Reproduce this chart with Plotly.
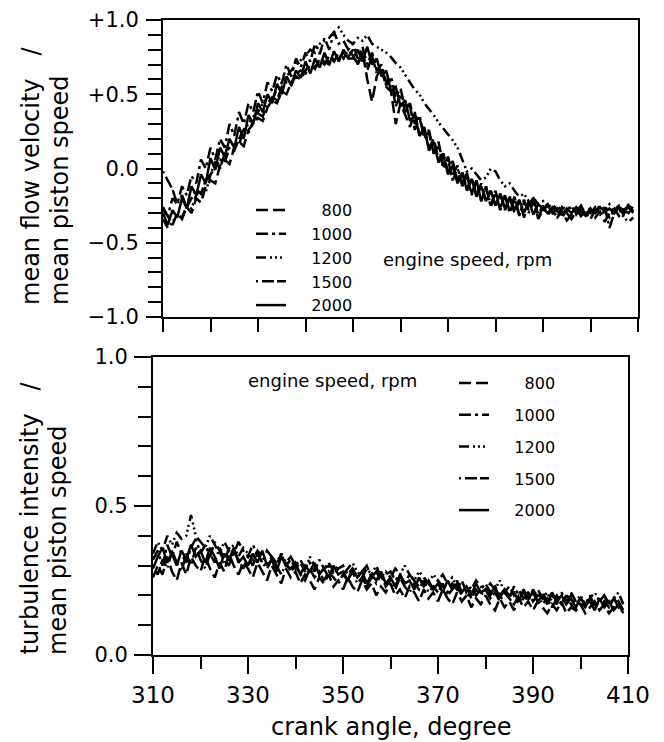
import plotly.graph_objects as go

# crank angle, degree (one sample per degree)
crank_angle = list(range(310, 410))

speeds = ["800", "1000", "1200", "1500", "2000"]

# mean flow velocity / mean piston speed
mean_800 = [
    -0.28, -0.32, -0.38, -0.30, -0.34, -0.26, -0.30, -0.20, -0.23, -0.12,
    -0.08, -0.10, 0.02, 0.06, 0.03, 0.14, 0.18, 0.15, 0.26, 0.30,
    0.34, 0.32, 0.41, 0.46, 0.44, 0.52, 0.50, 0.58, 0.62, 0.60,
    0.66, 0.70, 0.67, 0.73, 0.70, 0.76, 0.72, 0.78, 0.74, 0.80,
    0.76, 0.70, 0.79, 0.60, 0.45, 0.62, 0.68, 0.55, 0.52, 0.30,
    0.44, 0.36, 0.28, 0.38, 0.22, 0.27, 0.14, 0.20, 0.06, 0.10,
    -0.02, 0.05, -0.08, -0.02, -0.14, -0.06, -0.18, -0.10, -0.22, -0.15,
    -0.25, -0.17, -0.28, -0.20, -0.30, -0.22, -0.33, -0.24, -0.20, -0.31,
    -0.25, -0.31, -0.28, -0.33, -0.26, -0.30, -0.34, -0.29, -0.25, -0.31,
    -0.27, -0.33, -0.29, -0.36, -0.30, -0.27, -0.32, -0.28, -0.30, -0.26,
]
mean_1000 = [
    -0.26, -0.32, -0.20, -0.24, -0.12, -0.18, -0.05, -0.10, 0.06, 0.00,
    0.14, 0.06, 0.20, 0.14, 0.30, 0.22, 0.38, 0.30, 0.44, 0.38,
    0.52, 0.44, 0.58, 0.52, 0.63, 0.57, 0.70, 0.62, 0.74, 0.68,
    0.78, 0.72, 0.84, 0.77, 0.88, 0.80, 0.92, 0.84, 0.86, 0.80,
    0.84, 0.74, 0.82, 0.70, 0.78, 0.66, 0.70, 0.58, 0.62, 0.48,
    0.54, 0.40, 0.44, 0.30, 0.36, 0.20, 0.26, 0.10, 0.16, 0.00,
    0.08, -0.04, 0.02, -0.12, -0.05, -0.18, -0.08, -0.22, -0.12, -0.26,
    -0.16, -0.28, -0.18, -0.30, -0.20, -0.32, -0.21, -0.30, -0.22, -0.33,
    -0.26, -0.24, -0.30, -0.27, -0.33, -0.28, -0.25, -0.31, -0.27, -0.30,
    -0.34, -0.28, -0.31, -0.26, -0.40, -0.30, -0.27, -0.31, -0.24, -0.29,
]
mean_1200 = [
    -0.34, -0.40, -0.36, -0.31, -0.33, -0.25, -0.27, -0.18, -0.14, -0.16,
    -0.04, 0.00, 0.06, 0.04, 0.14, 0.18, 0.16, 0.26, 0.30, 0.35,
    0.38, 0.44, 0.48, 0.46, 0.54, 0.58, 0.62, 0.66, 0.70, 0.73,
    0.76, 0.80, 0.78, 0.84, 0.86, 0.88, 0.92, 0.95, 0.90, 0.86,
    0.84, 0.88, 0.86, 0.90, 0.84, 0.82, 0.80, 0.78, 0.75, 0.71,
    0.68, 0.63, 0.58, 0.53, 0.50, 0.44, 0.40, 0.36, 0.31, 0.27,
    0.23, 0.19, 0.14, 0.06, -0.02, 0.00, -0.04, -0.08, -0.06, 0.00,
    -0.02, -0.08, -0.12, -0.10, -0.15, -0.19, -0.17, -0.22, -0.20, -0.24,
    -0.22, -0.26, -0.24, -0.28, -0.25, -0.29, -0.26, -0.30, -0.27, -0.31,
    -0.26, -0.29, -0.25, -0.28, -0.24, -0.30, -0.27, -0.33, -0.36, -0.33,
]
mean_1500 = [
    -0.02, -0.08, -0.14, -0.24, -0.18, -0.26, -0.20, -0.14, -0.17, -0.08,
    -0.04, 0.04, 0.00, 0.10, 0.14, 0.12, 0.20, 0.26, 0.24, 0.32,
    0.37, 0.35, 0.44, 0.48, 0.46, 0.55, 0.58, 0.56, 0.64, 0.66,
    0.64, 0.70, 0.68, 0.74, 0.72, 0.70, 0.76, 0.74, 0.78, 0.75,
    0.80, 0.70, 0.78, 0.66, 0.76, 0.64, 0.66, 0.56, 0.60, 0.42,
    0.50, 0.38, 0.42, 0.26, 0.34, 0.22, 0.24, 0.10, 0.18, 0.02,
    0.06, -0.08, 0.00, -0.10, -0.03, -0.17, -0.08, -0.22, -0.12, -0.25,
    -0.15, -0.27, -0.18, -0.29, -0.19, -0.31, -0.23, -0.28, -0.21, -0.34,
    -0.28, -0.25, -0.30, -0.33, -0.29, -0.35, -0.31, -0.27, -0.32, -0.28,
    -0.30, -0.26, -0.31, -0.29, -0.33, -0.28, -0.25, -0.29, -0.26, -0.30,
]
mean_2000 = [
    -0.30, -0.38, -0.28, -0.33, -0.20, -0.27, -0.12, -0.18, -0.04, -0.10,
    0.07, -0.01, 0.14, 0.08, 0.20, 0.14, 0.28, 0.20, 0.36, 0.30,
    0.44, 0.38, 0.50, 0.44, 0.57, 0.50, 0.62, 0.56, 0.66, 0.61,
    0.72, 0.64, 0.74, 0.68, 0.78, 0.70, 0.79, 0.72, 0.80, 0.74,
    0.74, 0.80, 0.72, 0.82, 0.70, 0.74, 0.62, 0.66, 0.52, 0.55,
    0.42, 0.46, 0.32, 0.36, 0.22, 0.28, 0.12, 0.18, 0.04, 0.10,
    -0.04, 0.02, -0.10, -0.03, -0.15, -0.07, -0.19, -0.12, -0.22, -0.15,
    -0.25, -0.17, -0.27, -0.19, -0.28, -0.21, -0.30, -0.22, -0.31, -0.24,
    -0.27, -0.30, -0.26, -0.29, -0.31, -0.27, -0.30, -0.26, -0.29, -0.32,
    -0.28, -0.30, -0.26, -0.29, -0.27, -0.30, -0.26, -0.28, -0.25, -0.27,
]

# turbulence intensity / mean piston speed
turb_800 = [
    0.26, 0.30, 0.27, 0.33, 0.28, 0.25, 0.31, 0.27, 0.33, 0.30,
    0.28, 0.33, 0.29, 0.26, 0.31, 0.28, 0.34, 0.30, 0.27, 0.31,
    0.29, 0.26, 0.31, 0.28, 0.25, 0.30, 0.27, 0.24, 0.29, 0.26,
    0.28, 0.24, 0.27, 0.25, 0.22, 0.26, 0.24, 0.27, 0.23, 0.25,
    0.22, 0.26, 0.23, 0.21, 0.25, 0.22, 0.24, 0.20, 0.23, 0.21,
    0.24, 0.20, 0.22, 0.19, 0.23, 0.21, 0.18, 0.22, 0.19, 0.21,
    0.18, 0.22, 0.19, 0.17, 0.21, 0.18, 0.20, 0.16, 0.19, 0.17,
    0.20, 0.17, 0.15, 0.19, 0.16, 0.18, 0.15, 0.19, 0.16, 0.18,
    0.15, 0.18, 0.16, 0.14, 0.17, 0.15, 0.18, 0.14, 0.16, 0.15,
    0.17, 0.14, 0.16, 0.18, 0.15, 0.17, 0.14, 0.16, 0.18, 0.15,
]
turb_1000 = [
    0.32, 0.35, 0.30, 0.37, 0.33, 0.38, 0.34, 0.31, 0.36, 0.39,
    0.34, 0.37, 0.33, 0.38, 0.35, 0.31, 0.36, 0.34, 0.38, 0.35,
    0.33, 0.37, 0.34, 0.31, 0.35, 0.33, 0.30, 0.34, 0.31, 0.33,
    0.30, 0.32, 0.29, 0.31, 0.28, 0.32, 0.29, 0.30, 0.27, 0.29,
    0.30, 0.27, 0.29, 0.26, 0.28, 0.30, 0.26, 0.28, 0.25, 0.27,
    0.28, 0.25, 0.27, 0.24, 0.27, 0.25, 0.23, 0.26, 0.24, 0.22,
    0.25, 0.23, 0.21, 0.24, 0.22, 0.25, 0.21, 0.23, 0.20, 0.22,
    0.24, 0.21, 0.23, 0.20, 0.22, 0.19, 0.23, 0.20, 0.21, 0.18,
    0.22, 0.19, 0.21, 0.18, 0.20, 0.17, 0.21, 0.18, 0.20, 0.17,
    0.19, 0.17, 0.20, 0.16, 0.18, 0.20, 0.17, 0.19, 0.16, 0.18,
]
turb_1200 = [
    0.34, 0.38, 0.35, 0.40, 0.37, 0.41, 0.39, 0.40, 0.47, 0.40,
    0.38, 0.36, 0.40, 0.37, 0.34, 0.38, 0.35, 0.37, 0.33, 0.36,
    0.34, 0.32, 0.35, 0.33, 0.30, 0.33, 0.31, 0.34, 0.30, 0.32,
    0.29, 0.31, 0.28, 0.33, 0.30, 0.27, 0.29, 0.31, 0.28, 0.30,
    0.27, 0.29, 0.31, 0.28, 0.26, 0.29, 0.27, 0.30, 0.26, 0.28,
    0.26, 0.29, 0.27, 0.30, 0.27, 0.25, 0.28, 0.26, 0.24, 0.27,
    0.25, 0.27, 0.24, 0.26, 0.23, 0.20, 0.19, 0.22, 0.25, 0.23,
    0.21, 0.24, 0.22, 0.25, 0.21, 0.23, 0.20, 0.22, 0.19, 0.21,
    0.20, 0.22, 0.19, 0.21, 0.18, 0.20, 0.17, 0.19, 0.21, 0.18,
    0.20, 0.17, 0.19, 0.21, 0.18, 0.20, 0.17, 0.19, 0.21, 0.17,
]
turb_1500 = [
    0.30, 0.27, 0.32, 0.29, 0.35, 0.31, 0.28, 0.34, 0.30, 0.36,
    0.32, 0.29, 0.34, 0.31, 0.36, 0.32, 0.30, 0.35, 0.32, 0.29,
    0.33, 0.30, 0.34, 0.31, 0.29, 0.32, 0.30, 0.27, 0.31, 0.28,
    0.30, 0.27, 0.25, 0.29, 0.26, 0.28, 0.25, 0.28, 0.26, 0.24,
    0.27, 0.25, 0.28, 0.24, 0.26, 0.23, 0.26, 0.24, 0.27, 0.23,
    0.25, 0.22, 0.26, 0.23, 0.21, 0.24, 0.22, 0.25, 0.21, 0.23,
    0.21, 0.24, 0.20, 0.22, 0.25, 0.21, 0.23, 0.19, 0.22, 0.20,
    0.22, 0.19, 0.21, 0.18, 0.21, 0.19, 0.17, 0.20, 0.18, 0.21,
    0.18, 0.20, 0.17, 0.19, 0.16, 0.19, 0.17, 0.20, 0.17, 0.15,
    0.18, 0.16, 0.19, 0.17, 0.15, 0.18, 0.16, 0.19, 0.17, 0.15,
]
turb_2000 = [
    0.29, 0.33, 0.36, 0.31, 0.34, 0.30, 0.35, 0.32, 0.37, 0.33,
    0.35, 0.31, 0.36, 0.33, 0.29, 0.34, 0.32, 0.36, 0.31, 0.33,
    0.30, 0.34, 0.31, 0.35, 0.30, 0.32, 0.28, 0.33, 0.30, 0.29,
    0.31, 0.27, 0.30, 0.28, 0.31, 0.27, 0.29, 0.26, 0.30, 0.27,
    0.28, 0.25, 0.29, 0.26, 0.28, 0.24, 0.27, 0.25, 0.28, 0.24,
    0.26, 0.23, 0.27, 0.24, 0.25, 0.22, 0.26, 0.23, 0.25, 0.22,
    0.24, 0.21, 0.25, 0.22, 0.24, 0.21, 0.23, 0.20, 0.24, 0.21,
    0.22, 0.20, 0.23, 0.19, 0.22, 0.20, 0.21, 0.18, 0.22, 0.19,
    0.21, 0.18, 0.20, 0.17, 0.21, 0.18, 0.20, 0.17, 0.19, 0.16,
    0.19, 0.17, 0.18, 0.15, 0.19, 0.16, 0.18, 0.15, 0.17, 0.14,
]

mean_series = [mean_800, mean_1000, mean_1200, mean_1500, mean_2000]
turb_series = [turb_800, turb_1000, turb_1200, turb_1500, turb_2000]

top_ticks = [-1.0, -0.5, 0.0, 0.5, 1.0]
top_ticktext = ["\u22121.0", "\u22120.5", "0.0", "+0.5", "+1.0"]
bottom_ticks = [0.0, 0.5, 1.0]
bottom_ticktext = ["0.0", "0.5", "1.0"]
x_ticks = [310, 330, 350, 370, 390, 410]

dashes = [
    "12px,5px",
    "12px,4px,3px,4px",
    "10px,4px,2px,3px,2px,3px,2px,4px",
    "2px,4px,12px,3px,12px,4px",
    "solid",
]

FONT = "DejaVu Sans"
# the page body adds an 8px margin, so the figure is drawn 8px in from the corner
OFF = 8
W, H = 664 - OFF, 742 - OFF


def px(x):
    return (x - OFF) / W


def py(y):
    return 1 - (y - OFF) / H


def legend_label(s):
    # figure spaces so the numbers line up on the right
    return "\u2007" * (6 - len(s)) + s


fig = go.Figure()

for s, ys, d in zip(speeds, mean_series, dashes):
    fig.add_trace(go.Scatter(
        x=crank_angle, y=ys, mode="lines", name=legend_label(s),
        line=dict(color="black", width=2.5, dash=d),
        xaxis="x", yaxis="y", legend="legend",
    ))

for s, ys, d in zip(speeds, turb_series, dashes):
    fig.add_trace(go.Scatter(
        x=crank_angle, y=ys, mode="lines", name=legend_label(s),
        line=dict(color="black", width=2.5, dash=d),
        xaxis="x2", yaxis="y2", legend="legend2", legendgroup="b" + s,
    ))

axis_common = dict(
    showline=True, linecolor="black", linewidth=2, mirror=True,
    showgrid=False, zeroline=False, ticks="outside", tickcolor="black",
    tickwidth=2, tickfont=dict(family=FONT, size=21, color="black"),
    automargin=False, ticklabeloverflow="allow",
)

fig.update_layout(
    width=W, height=H,
    margin=dict(l=0, r=0, t=0, b=0, autoexpand=False),
    paper_bgcolor="white", plot_bgcolor="white",
    font=dict(family=FONT, color="black"),
    xaxis=dict(
        axis_common, domain=[px(163), px(638)], anchor="y", range=[310, 410],
        tickmode="linear", tick0=310, dtick=10, ticklen=13, showticklabels=False,
    ),
    yaxis=dict(
        axis_common, domain=[py(317), py(20)], anchor="x", range=[-1, 1],
        tickmode="array", tickvals=top_ticks, ticktext=top_ticktext, ticklen=15,
        ticklabelstandoff=3,
        minor=dict(ticks="outside", tick0=0, dtick=0.1, ticklen=13,
                   tickwidth=2, tickcolor="black"),
    ),
    xaxis2=dict(
        axis_common, domain=[px(153), px(628)], anchor="y2", range=[310, 410],
        tickmode="array", tickvals=x_ticks, ticklen=17, ticklabelstandoff=1,
        tickfont=dict(family=FONT, size=23, color="black"),
        minor=dict(ticks="outside", tick0=310, dtick=10, ticklen=12,
                   tickwidth=2, tickcolor="black"),
    ),
    yaxis2=dict(
        axis_common, domain=[py(655), py(357)], anchor="x2", range=[0, 1],
        tickmode="array", tickvals=bottom_ticks, ticktext=bottom_ticktext,
        ticklen=17, ticklabelstandoff=2,
        minor=dict(ticks="outside", tick0=0, dtick=0.1, ticklen=13,
                   tickwidth=2, tickcolor="black"),
    ),
    legend=dict(
        x=px(251), y=py(193), xanchor="left", yanchor="top",
        bgcolor="rgba(0,0,0,0)", font=dict(family=FONT, size=16, color="black"),
        tracegroupgap=0,
    ),
    legend2=dict(
        x=px(454), y=py(366), xanchor="left", yanchor="top",
        bgcolor="rgba(0,0,0,0)", font=dict(family=FONT, size=16, color="black"),
        tracegroupgap=8, traceorder="grouped",
    ),
    showlegend=True,
)

annotations = [
    # y-axis titles: two rotated lines each, aligned at their lower end
    dict(text="mean flow velocity   /", x=px(31), y=py(307), yanchor="bottom",
         textangle=-90, font=dict(size=24)),
    dict(text="mean piston speed", x=px(60), y=py(307), yanchor="bottom",
         textangle=-90, font=dict(size=24)),
    dict(text="turbulence intensity   /", x=px(29), y=py(657), yanchor="bottom",
         textangle=-90, font=dict(size=24)),
    dict(text="mean piston speed", x=px(58), y=py(657), yanchor="bottom",
         textangle=-90, font=dict(size=24)),
    dict(text="crank angle, degree", x=px(391), y=py(727), font=dict(size=24)),
    dict(text="engine speed, rpm", x=px(467), y=py(260), font=dict(size=18)),
    dict(text="engine speed, rpm", x=px(332), y=py(380), font=dict(size=18)),
]
for a in annotations:
    a.setdefault("yanchor", "middle")
    fig.add_annotation(xref="paper", yref="paper", showarrow=False,
                       xanchor="center", **a)

fig.write_html("out.html")
